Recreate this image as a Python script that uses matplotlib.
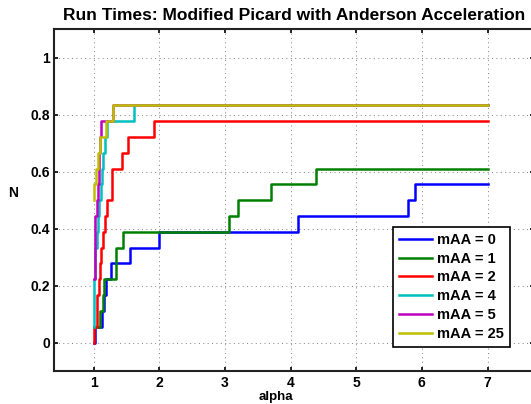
import matplotlib
matplotlib.use("Agg")
import matplotlib.pyplot as plt

plt.rcParams['font.family'] = ['Liberation Sans', 'DejaVu Sans']
plt.rcParams['font.weight'] = 'bold'

title = "Run Times: Modified Picard with Anderson Acceleration"
labels = ["mAA = 0", "mAA = 1", "mAA = 2", "mAA = 4", "mAA = 5", "mAA = 25"]
colors = [(0, 0, 1), (0, 0.5, 0), (1, 0, 0), (0, 0.75, 0.75), (0.75, 0, 0.75), (0.75, 0.75, 0)]

# step break points (alpha) and fraction of problems solved (N)
alpha_0 = [1.00, 1.02, 1.13, 1.16, 1.19, 1.26, 1.55, 2.00, 4.12, 5.79, 5.89, 7.00]
n_0 = [0.0, 0.0556, 0.1111, 0.1667, 0.2222, 0.2778, 0.3333, 0.3889, 0.4444, 0.5, 0.5556, 0.5556]

alpha_1 = [1.00, 1.10, 1.14, 1.16, 1.34, 1.45, 3.06, 3.20, 3.71, 4.39, 7.00]
n_1 = [0.0556, 0.1111, 0.1667, 0.2222, 0.3333, 0.3889, 0.4444, 0.5, 0.5556, 0.6111, 0.6111]

alpha_2 = [1.00, 1.005, 1.05, 1.06, 1.08, 1.10, 1.12, 1.14, 1.17, 1.21, 1.28, 1.43, 1.53, 1.92, 7.00]
n_2 = [0.0, 0.0556, 0.1111, 0.1667, 0.2222, 0.2778, 0.3333, 0.3889, 0.4444, 0.5, 0.6111, 0.6667, 0.7222, 0.7778, 0.7778]

alpha_4 = [1.00, 1.005, 1.01, 1.015, 1.02, 1.03, 1.05, 1.07, 1.09, 1.11, 1.13, 1.15, 1.18, 1.21, 1.61, 7.00]
n_4 = [0.0556, 0.1111, 0.1667, 0.2222, 0.2778, 0.3333, 0.3889, 0.4444, 0.5, 0.5556, 0.6111, 0.6667, 0.7222, 0.7778, 0.8333, 0.8333]

alpha_5 = [1.00, 1.02, 1.06, 1.07, 1.08, 1.09, 1.10, 1.12, 1.29, 7.00]
n_5 = [0.2222, 0.4444, 0.5, 0.5556, 0.6111, 0.6667, 0.7222, 0.7778, 0.8333, 0.8333]

alpha_25 = [1.00, 1.01, 1.04, 1.07, 1.10, 1.19, 1.29, 7.00]
n_25 = [0.5, 0.5556, 0.6111, 0.6667, 0.7222, 0.7778, 0.8333, 0.8333]

series_x = [alpha_0, alpha_1, alpha_2, alpha_4, alpha_5, alpha_25]
series_y = [n_0, n_1, n_2, n_4, n_5, n_25]

xticks = [1, 2, 3, 4, 5, 6, 7]
yticks = [0, 0.2, 0.4, 0.6, 0.8, 1]
yticklabels = ["0", "0.2", "0.4", "0.6", "0.8", "1"]

W, H = 531, 404
fig = plt.figure(figsize=(W / 100, H / 100), dpi=100)
left_px, right_px, top_px, bot_px = 54.1, 533.5, 29.3, 371.0
ax = fig.add_axes([left_px / W, (H - bot_px) / H, (right_px - left_px) / W, (bot_px - top_px) / H])

for xs, ys, c, lab in zip(series_x, series_y, colors, labels):
    ax.plot(xs, ys, drawstyle='steps-post', color=c, lw=1.8, label=lab)

ax.set_xlim(0.4, 7.7)
ax.set_ylim(-0.1, 1.1)
ax.set_xticks(xticks)
ax.set_xticklabels([str(t) for t in xticks])
ax.set_yticks(yticks)
ax.set_yticklabels(yticklabels)
ax.grid(True, color=(0.55, 0.55, 0.55), linestyle=(0, (1, 3.2)), linewidth=0.75)
ax.tick_params(direction='in', length=3, width=1.2, top=True, right=True,
               labelsize=10, pad=3, colors='black')
ax.tick_params(axis='x', pad=3.5)
for lab in ax.get_xticklabels() + ax.get_yticklabels():
    lab.set_fontweight('bold')
for s in ax.spines.values():
    s.set_linewidth(1.5)
    s.set_color('#222222')

ax.set_title(title, fontsize=12.5, fontweight='bold', pad=7)
ax.set_xlabel("alpha", fontsize=9.5, fontweight='bold')
ax.xaxis.set_label_coords(0.462, -0.077)
ax.set_ylabel("N", fontsize=10, fontweight='bold', rotation=0)
ax.yaxis.set_label_coords(-0.0866, 0.52)
ax.xaxis.label.set_va('center')
ax.yaxis.label.set_va('center')
ax.yaxis.label.set_ha('center')

leg = ax.legend(loc='lower left', bbox_to_anchor=(0.7064, 0.0702), borderaxespad=0,
                prop={'weight': 'bold', 'size': 10.5}, handlelength=2.3,
                handletextpad=0.3, labelspacing=0.33, borderpad=0.42, fancybox=False,
                framealpha=1, edgecolor='black')
leg.get_frame().set_linewidth(1.2)

fig.savefig("out.png", dpi=100)
